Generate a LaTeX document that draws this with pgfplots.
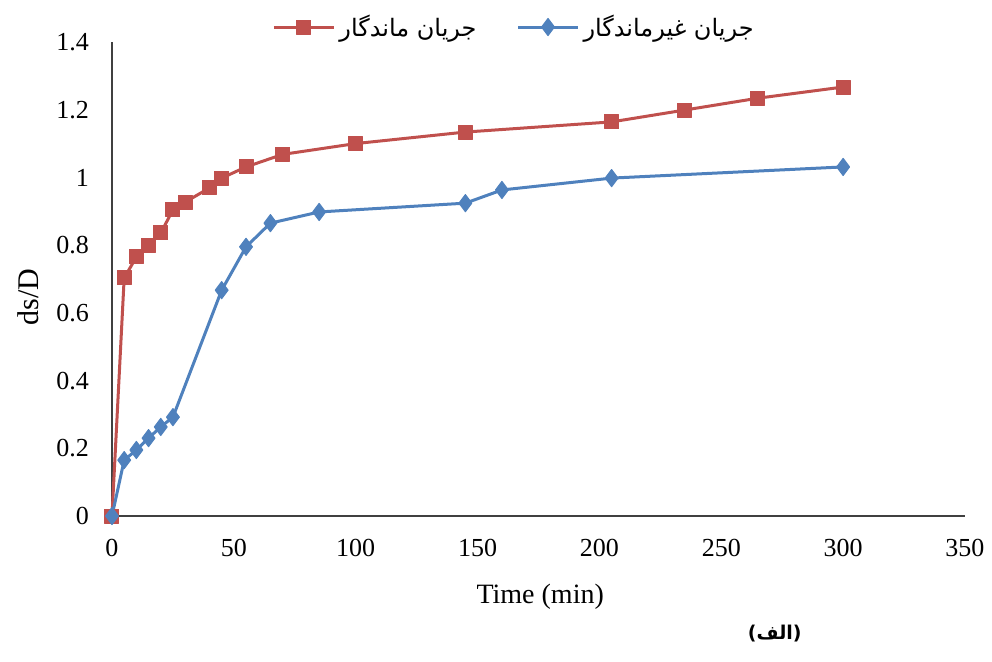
\documentclass[border=0pt]{standalone}
\usepackage{fontspec}
\setmainfont{Liberation Serif}
\newfontfamily\farsi[Script=Arabic]{DejaVu Sans}
\usepackage{pgfplots}
\pgfplotsset{compat=1.18}
\TeXXeTstate=1
\definecolor{exred}{RGB}{192,80,77}
\definecolor{exblue}{RGB}{79,129,189}

\begin{document}
\begin{tikzpicture}[font=\fontsize{13bp}{15bp}\selectfont]
\begin{axis}[
    scale only axis,
    width=426.5bp, height=237bp,
    xmin=0, xmax=350, ymin=0, ymax=1.4,
    xtick={0,50,...,350},
    ytick={0,0.2,0.4,0.6,0.8,1,1.2,1.4},
    axis x line=bottom, axis y line=left,
    axis line style={-, draw=black!75, line width=0.75bp},
    major tick length=0pt,
    /pgf/number format/assume math mode=true,
    xticklabel style={yshift=-8bp},
    yticklabel style={xshift=-8bp},
    clip=false,
    every axis x label/.style={at={(axis description cs:0.502,-0.171)}, anchor=center,
        font=\fontsize{14bp}{16bp}\selectfont},
    every axis y label/.style={at={(axis description cs:-0.098,0.462)}, anchor=center, rotate=90,
        font=\fontsize{15bp}{17bp}\selectfont},
    xlabel={Time (min)},
    ylabel={ds/D},
    legend columns=2,
    legend style={at={(axis description cs:0.4725,1.0316)}, anchor=center,
        draw=none, fill=none, font=\farsi\fontsize{12bp}{14bp}\selectfont,
        /tikz/every even column/.append style={column sep=18bp}},
    legend image code/.code={\draw[mark repeat=2,mark phase=2,#1]
        plot coordinates {(0bp,0bp) (15bp,0bp) (30bp,0bp)};},
]
\addplot[color=exred, line width=1.5bp, line join=round,
    mark=square*, mark size=3.5bp, mark options={fill=exred, draw=exred, line width=0.5bp}]
coordinates {
    (0,0) (5,0.703) (10,0.765) (15,0.80) (20,0.836) (25,0.904) (30,0.927)
    (40,0.969) (45,0.998) (55,1.031) (70,1.068) (100,1.10) (145,1.134)
    (205,1.164) (235,1.199) (265,1.234) (300,1.267)
};
\addlegendentry{\beginR جریان ماندگار\endR}
\addplot[color=exblue, line width=1.5bp, line join=round,
    mark=diamond*, mark size=4.3bp, mark options={fill=exblue, draw=exblue, line width=0.5bp}]
coordinates {
    (0,0) (5,0.165) (10,0.195) (15,0.23) (20,0.263) (25,0.292) (45,0.667)
    (55,0.795) (65,0.865) (85,0.898) (145,0.924) (160,0.963) (205,0.998)
    (300,1.031)
};
\addlegendentry{\beginR جریان غیرماندگار\endR}
\node[font=\farsi\bfseries\fontsize{9.5bp}{11bp}\selectfont] at (axis description cs:0.777,-0.247) {\beginR(الف)\endR};
\end{axis}
\pgfresetboundingbox
\path ([shift={(-56bp,-73bp)}]current axis.south west) rectangle ([shift={(13.5bp,21bp)}]current axis.north east);
\end{tikzpicture}
\end{document}
